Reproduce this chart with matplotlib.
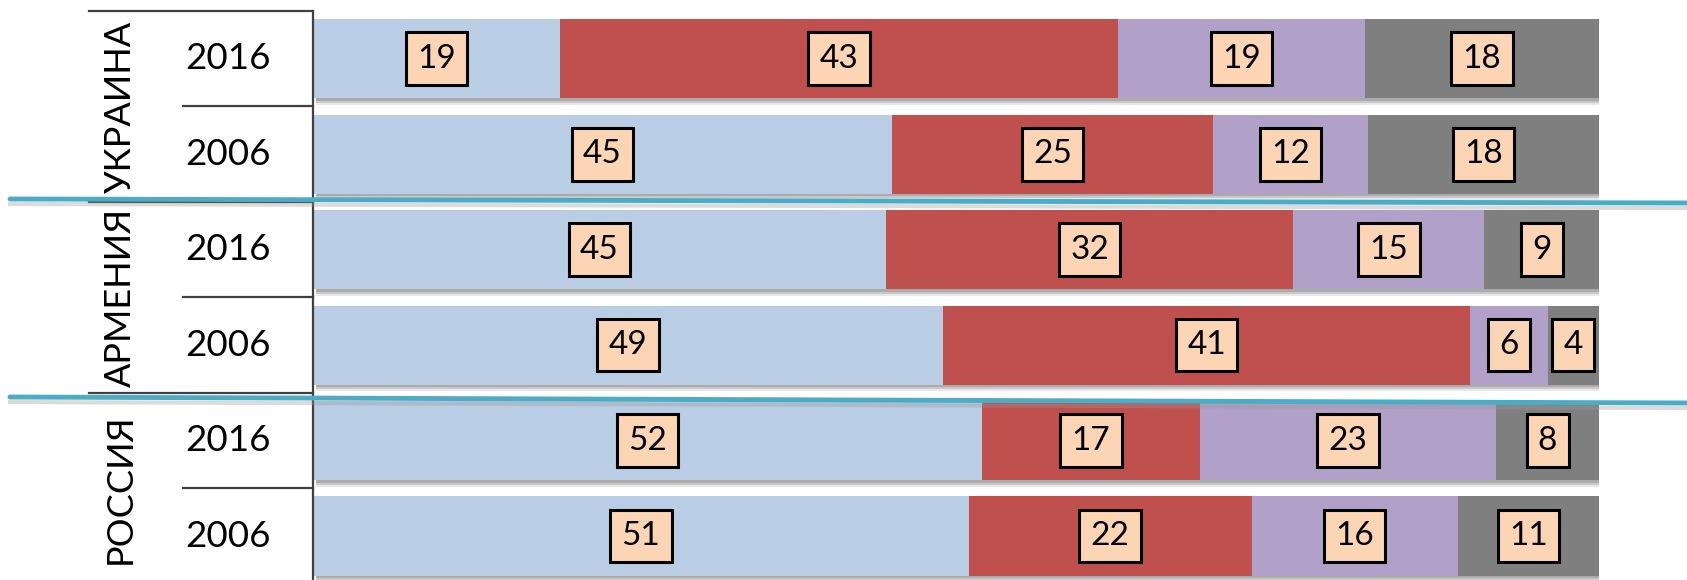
import numpy as np
import matplotlib
matplotlib.use("Agg")
import matplotlib.pyplot as plt
from matplotlib.lines import Line2D

plt.rcParams["font.family"] = ["Lato", "Open Sans", "DejaVu Sans"]

countries = ["УКРАИНА", "АРМЕНИЯ", "РОССИЯ"]
years = ["2016", "2006", "2016", "2006", "2016", "2006"]
blue = [19, 45, 45, 49, 52, 51]
red = [43, 25, 32, 41, 17, 22]
purple = [19, 12, 15, 6, 23, 16]
gray = [18, 18, 9, 4, 8, 11]

series = [blue, red, purple, gray]
colors = ["#b9cde5", "#c0504d", "#b1a0c7", "#7f7f7f"]

W, H = 1687, 580
fig = plt.figure(figsize=(W / 100, H / 100), dpi=100)
# x: 0..100 maps to px 313..1599 ; y: rows, row -0.5 at px 11
ax = fig.add_axes([313 / W, 0, 1286 / W, 569 / H])
ax.set_xlim(0, 100)
ax.set_ylim(5.46, -0.5)
ax.axis("off")

vals = np.array(series, dtype=float)
shares = vals / vals.sum(axis=0) * 100
rows = np.arange(len(years))
bh = 0.83

# soft shadow under the bars
for dy, a in [(0.07, 0.18), (0.045, 0.3), (0.025, 0.4)]:
    ax.barh(rows + dy, 100, left=0.25, height=bh, color="#808080",
            alpha=a, linewidth=0, zorder=1)

left = np.zeros(len(years))
for v, s, c in zip(vals, shares, colors):
    ax.barh(rows, s, left=left, height=bh, color=c, linewidth=0, zorder=2)
    for i in rows:
        ax.text(left[i] + s[i] / 2, i, f"{int(v[i])}", ha="center",
                va="center", fontsize=24, color="black", zorder=4,
                bbox=dict(boxstyle="square,pad=0.34", fc="#fcd5b5",
                          ec="black", lw=2.2))
    left += s

# table on the left
lc = "#404040"
ax.plot([0, 0], [-0.5, 5.46], color=lc, lw=1.6, clip_on=False, zorder=5)
ax.plot([-17.4, 0], [-0.5, -0.5], color=lc, lw=1.6, clip_on=False)
for r in [0.5, 2.5, 4.5]:
    ax.plot([-10.1, 0], [r, r], color=lc, lw=1.6, clip_on=False)
for r in [1.5, 3.5]:
    ax.plot([-17.4, 0], [r, r], color=lc, lw=1.6, clip_on=False)

for i, y in enumerate(years):
    ax.text(-6.6, i, y, ha="center", va="center", fontsize=26.5,
            color="black", clip_on=False)
for g, c in enumerate(countries):
    ax.text(-15.0, 2 * g + 0.5, c, ha="center", va="center", fontsize=26,
            rotation=90, color="black", clip_on=False)

# teal divider lines (hand-drawn look, slight slope)
def px_line(x0, y0, x1, y1):
    sh = Line2D([x0 / W, x1 / W], [1 - (y0 + 5) / H, 1 - (y1 + 5) / H],
                transform=fig.transFigure, color="#999999", lw=3,
                alpha=0.35, zorder=9)
    ln = Line2D([x0 / W, x1 / W], [1 - y0 / H, 1 - y1 / H],
                transform=fig.transFigure, color="#4bacc6", lw=3.5,
                zorder=10, solid_capstyle="round")
    fig.add_artist(sh)
    fig.add_artist(ln)

px_line(10, 199, 1687, 203)
px_line(10, 397, 1687, 403)

fig.savefig("out.png", dpi=100)
